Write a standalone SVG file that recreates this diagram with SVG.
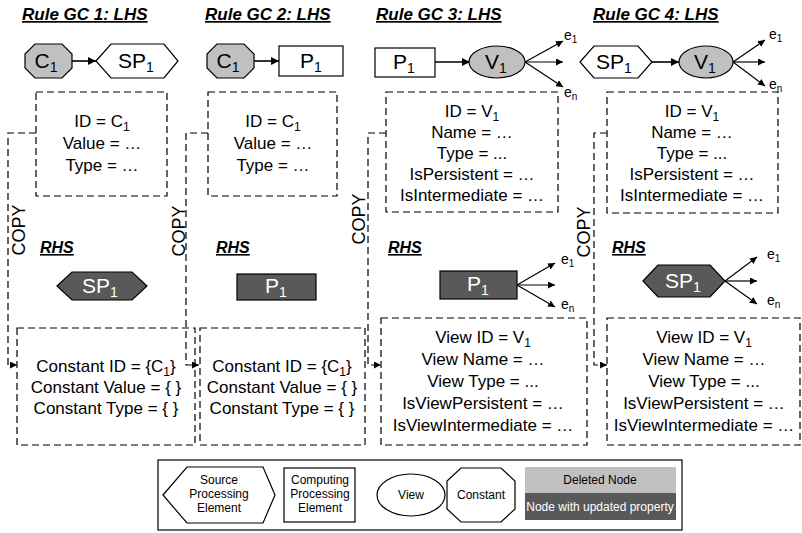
<svg xmlns="http://www.w3.org/2000/svg" width="802" height="533" viewBox="0 0 802 533">
  <defs>
    <marker id="ah" viewBox="0 0 10 10" refX="10" refY="5" markerWidth="8" markerHeight="8" markerUnits="userSpaceOnUse" orient="auto">
      <path d="M0,0 L10,5 L0,10 z" fill="#000"/>
    </marker>
    <marker id="ahs" viewBox="0 0 10 10" refX="10" refY="5" markerWidth="7" markerHeight="7" markerUnits="userSpaceOnUse" orient="auto">
      <path d="M0,0 L10,5 L0,10 z" fill="#000"/>
    </marker>
    <style>
      text { font-family: "Liberation Sans", Arial, sans-serif; fill: #000; }
      .title { font-size: 17px; font-weight: bold; font-style: italic; text-decoration: underline; }
      .rhs { font-size: 16px; font-weight: bold; font-style: italic; text-decoration: underline; }
      .lbl { font-size: 21px; text-anchor: middle; }
      .lblw { font-size: 21px; text-anchor: middle; fill: #fff; }
      .attr { font-size: 17px; text-anchor: middle; }
      .edge { font-size: 14px; }
      .copy { font-size: 18px; text-anchor: middle; }
      .leg { font-size: 12px; text-anchor: middle; }
      .legw { font-size: 12px; text-anchor: middle; fill: #fff; }
      .box { fill: none; stroke: #000; stroke-width: 1.2; stroke-dasharray: 7 4; }
      .wire { fill: none; stroke: #000; stroke-width: 1.2; stroke-dasharray: 7 4; }
      .shape { fill: #fff; stroke: #000; stroke-width: 1.2; }
      .del { fill: #c0c0c0; stroke: #000; stroke-width: 1.2; }
      .upd { fill: #595959; stroke: #000; stroke-width: 1.2; }
      .arr { stroke: #000; stroke-width: 1.6; fill: none; }
      .arr2 { stroke: #000; stroke-width: 1.2; fill: none; }
    </style>
  </defs>

  <!-- rule titles -->
  <text class="title" x="22" y="20">Rule GC 1: LHS</text>
  <text class="title" x="205" y="20">Rule GC 2: LHS</text>
  <text class="title" x="376" y="20">Rule GC 3: LHS</text>
  <text class="title" x="593" y="20">Rule GC 4: LHS</text>

  <text class="rhs" x="40" y="253">RHS</text>
  <text class="rhs" x="216" y="253">RHS</text>
  <text class="rhs" x="388" y="253">RHS</text>
  <text class="rhs" x="612" y="253">RHS</text>

  <!-- connectors -->
  <g id="connectors">
    <line class="arr" x1="72" y1="61" x2="96" y2="61" marker-end="url(#ah)"/>
    <line class="arr" x1="254" y1="61" x2="279" y2="61" marker-end="url(#ah)"/>
    <line class="arr" x1="435" y1="62" x2="470" y2="62" marker-end="url(#ah)"/>
    <line class="arr" x1="652" y1="62" x2="679" y2="62" marker-end="url(#ah)"/>

    <!-- fan-out edges -->
    <line class="arr2" x1="525" y1="62" x2="563" y2="41" marker-end="url(#ahs)"/>
    <line class="arr2" x1="525" y1="62" x2="563" y2="62" marker-end="url(#ahs)"/>
    <line class="arr2" x1="525" y1="62" x2="563" y2="87" marker-end="url(#ahs)"/>
    <line class="arr2" x1="733" y1="62" x2="765" y2="40" marker-end="url(#ahs)"/>
    <line class="arr2" x1="733" y1="62" x2="765" y2="62" marker-end="url(#ahs)"/>
    <line class="arr2" x1="733" y1="62" x2="765" y2="86" marker-end="url(#ahs)"/>
    <line class="arr2" x1="517" y1="285" x2="555" y2="263" marker-end="url(#ahs)"/>
    <line class="arr2" x1="517" y1="285" x2="555" y2="285" marker-end="url(#ahs)"/>
    <line class="arr2" x1="517" y1="285" x2="555" y2="307" marker-end="url(#ahs)"/>
    <line class="arr2" x1="725" y1="281" x2="757" y2="257" marker-end="url(#ahs)"/>
    <line class="arr2" x1="725" y1="281" x2="757" y2="281" marker-end="url(#ahs)"/>
    <line class="arr2" x1="725" y1="281" x2="757" y2="304" marker-end="url(#ahs)"/>

    <!-- copy wires -->
    <path class="wire" d="M36,133 H8 V365 H17" marker-end="url(#ahs)"/>
    <path class="wire" d="M208,133 H186 V365 H199" marker-end="url(#ahs)"/>
    <path class="wire" d="M386,133 H368 V365 H381" marker-end="url(#ahs)"/>
    <path class="wire" d="M607,133 H594 V365 H607" marker-end="url(#ahs)"/>
  </g>

  <!-- edge labels -->
  <text class="edge" x="564" y="40">e<tspan font-size="10" dy="3">1</tspan></text>
  <text class="edge" x="564" y="97">e<tspan font-size="10" dy="3">n</tspan></text>
  <text class="edge" x="769" y="39">e<tspan font-size="10" dy="3">1</tspan></text>
  <text class="edge" x="769" y="89">e<tspan font-size="10" dy="3">n</tspan></text>
  <text class="edge" x="561" y="264">e<tspan font-size="10" dy="3">1</tspan></text>
  <text class="edge" x="561" y="309">e<tspan font-size="10" dy="3">n</tspan></text>
  <text class="edge" x="767" y="259">e<tspan font-size="10" dy="3">1</tspan></text>
  <text class="edge" x="767" y="305">e<tspan font-size="10" dy="3">n</tspan></text>

  <!-- copy labels -->
  <text class="copy" transform="translate(25,230) rotate(-90)">COPY</text>
  <text class="copy" transform="translate(185,231) rotate(-90)">COPY</text>
  <text class="copy" transform="translate(365,219) rotate(-90)">COPY</text>
  <text class="copy" transform="translate(590,232) rotate(-90)">COPY</text>

  <!-- rule GC 1 -->
  <g id="gc1-c1">
    <polygon class="del" points="35,44 62,44 72,54 72,68 62,78 35,78 25,68 25,54"/>
    <text class="lbl" x="46" y="68">C<tspan font-size="14" dy="4">1</tspan></text>
  </g>
  <g id="gc1-sp1">
    <polygon class="shape" points="96,61 111,44 164,44 178,61 164,78 111,78"/>
    <text class="lbl" x="136" y="68">SP<tspan font-size="14" dy="4">1</tspan></text>
  </g>
  <g id="gc1-attrs">
    <rect class="box" x="36" y="92" width="131" height="104"/>
    <text class="attr" x="102" y="127">ID = C<tspan font-size="12" dy="4">1</tspan></text>
    <text class="attr" x="102" y="149">Value = …</text>
    <text class="attr" x="102" y="171">Type = …</text>
  </g>
  <g id="gc1-rhs-sp1">
    <polygon class="upd" points="57,286 72,272 132,272 147,286 132,300 72,300"/>
    <text class="lblw" x="100" y="293">SP<tspan font-size="14" dy="4">1</tspan></text>
  </g>
  <g id="gc1-rhs-attrs">
    <rect class="box" x="17" y="328" width="178" height="117"/>
    <text class="attr" x="106" y="372">Constant ID = {C<tspan font-size="12" dy="4">1</tspan><tspan dy="-4">}</tspan></text>
    <text class="attr" x="106" y="393">Constant Value = { }</text>
    <text class="attr" x="106" y="414">Constant Type = { }</text>
  </g>

  <!-- rule GC 2 -->
  <g id="gc2-c1">
    <polygon class="del" points="217,44 244,44 254,54 254,68 244,78 217,78 207,68 207,54"/>
    <text class="lbl" x="228" y="68">C<tspan font-size="14" dy="4">1</tspan></text>
  </g>
  <g id="gc2-p1">
    <rect class="shape" x="279" y="46" width="64" height="30"/>
    <text class="lbl" x="311" y="68">P<tspan font-size="14" dy="4">1</tspan></text>
  </g>
  <g id="gc2-attrs">
    <rect class="box" x="208" y="92" width="129" height="104"/>
    <text class="attr" x="273" y="127">ID = C<tspan font-size="12" dy="4">1</tspan></text>
    <text class="attr" x="273" y="149">Value = …</text>
    <text class="attr" x="273" y="171">Type = …</text>
  </g>
  <g id="gc2-rhs-p1">
    <rect class="upd" x="237" y="274" width="79" height="26"/>
    <text class="lblw" x="276" y="293">P<tspan font-size="14" dy="4">1</tspan></text>
  </g>
  <g id="gc2-rhs-attrs">
    <rect class="box" x="200" y="328" width="165" height="117"/>
    <text class="attr" x="282" y="372">Constant ID = {C<tspan font-size="12" dy="4">1</tspan><tspan dy="-4">}</tspan></text>
    <text class="attr" x="282" y="393">Constant Value = { }</text>
    <text class="attr" x="282" y="414">Constant Type = { }</text>
  </g>

  <!-- rule GC 3 -->
  <g id="gc3-p1">
    <rect class="shape" x="375" y="48" width="60" height="29"/>
    <text class="lbl" x="404" y="69">P<tspan font-size="14" dy="4">1</tspan></text>
  </g>
  <g id="gc3-v1">
    <ellipse class="del" cx="497" cy="62" rx="28" ry="16"/>
    <text class="lbl" x="496" y="69">V<tspan font-size="14" dy="4">1</tspan></text>
  </g>
  <g id="gc3-attrs">
    <rect class="box" x="386" y="92" width="172" height="120"/>
    <text class="attr" x="472" y="117">ID = V<tspan font-size="12" dy="4">1</tspan></text>
    <text class="attr" x="472" y="138">Name = …</text>
    <text class="attr" x="472" y="159">Type = ...</text>
    <text class="attr" x="472" y="180">IsPersistent = …</text>
    <text class="attr" x="472" y="201">IsIntermediate = …</text>
  </g>
  <g id="gc3-rhs-p1">
    <rect class="upd" x="440" y="271" width="77" height="28"/>
    <text class="lblw" x="478" y="291">P<tspan font-size="14" dy="4">1</tspan></text>
  </g>
  <g id="gc3-rhs-attrs">
    <rect class="box" x="381" y="318" width="206" height="127"/>
    <text class="attr" x="483" y="343">View ID = V<tspan font-size="12" dy="4">1</tspan></text>
    <text class="attr" x="483" y="365">View Name = …</text>
    <text class="attr" x="483" y="387">View Type = ...</text>
    <text class="attr" x="483" y="409">IsViewPersistent = …</text>
    <text class="attr" x="483" y="431">IsViewIntermediate = …</text>
  </g>

  <!-- rule GC 4 -->
  <g id="gc4-sp1">
    <polygon class="shape" points="580,62 594,46 638,46 652,62 638,78 594,78"/>
    <text class="lbl" x="614" y="69">SP<tspan font-size="14" dy="4">1</tspan></text>
  </g>
  <g id="gc4-v1">
    <ellipse class="del" cx="706" cy="62" rx="27" ry="16"/>
    <text class="lbl" x="705" y="69">V<tspan font-size="14" dy="4">1</tspan></text>
  </g>
  <g id="gc4-attrs">
    <rect class="box" x="607" y="92" width="171" height="121"/>
    <text class="attr" x="692" y="117">ID = V<tspan font-size="12" dy="4">1</tspan></text>
    <text class="attr" x="692" y="138">Name = …</text>
    <text class="attr" x="692" y="159">Type = ...</text>
    <text class="attr" x="692" y="180">IsPersistent = …</text>
    <text class="attr" x="692" y="201">IsIntermediate = …</text>
  </g>
  <g id="gc4-rhs-sp1">
    <polygon class="upd" points="643,281 658,265 710,265 725,281 710,297 658,297"/>
    <text class="lblw" x="683" y="288">SP<tspan font-size="14" dy="4">1</tspan></text>
  </g>
  <g id="gc4-rhs-attrs">
    <rect class="box" x="607" y="318" width="193" height="127"/>
    <text class="attr" x="704" y="343">View ID = V<tspan font-size="12" dy="4">1</tspan></text>
    <text class="attr" x="704" y="365">View Name = …</text>
    <text class="attr" x="704" y="387">View Type = ...</text>
    <text class="attr" x="704" y="409">IsViewPersistent = …</text>
    <text class="attr" x="704" y="431">IsViewIntermediate = …</text>
  </g>

  <!-- legend -->
  <g id="legend">
    <rect x="158" y="460" width="524" height="70" fill="#fff" stroke="#000" stroke-width="1.2"/>
    <polygon class="shape" points="163,495 187,467 263,467 275,495 263,523 187,523"/>
    <text class="leg" x="219" y="484">Source</text>
    <text class="leg" x="219" y="498">Processing</text>
    <text class="leg" x="219" y="512">Element</text>
    <rect class="shape" x="284" y="468" width="71" height="54"/>
    <text class="leg" x="320" y="484">Computing</text>
    <text class="leg" x="320" y="498">Processing</text>
    <text class="leg" x="320" y="512">Element</text>
    <ellipse class="shape" cx="411" cy="495" rx="34" ry="21"/>
    <text class="leg" x="411" y="499">View</text>
    <polygon class="shape" points="461,468 501,468 515,481 515,509 501,522 461,522 447,509 447,481"/>
    <text class="leg" x="481" y="499">Constant</text>
    <rect x="525" y="467" width="151" height="26" fill="#c0c0c0"/>
    <text class="leg" x="600" y="484">Deleted Node</text>
    <rect x="525" y="493" width="151" height="27" fill="#595959"/>
    <text class="legw" x="600" y="511">Node with updated property</text>
  </g>
</svg>
